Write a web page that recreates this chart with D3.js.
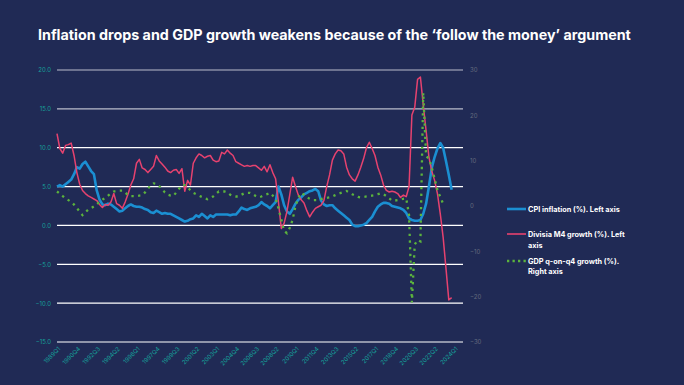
<!DOCTYPE html>
<html>
<head>
<meta charset="utf-8">
<script src="https://cdn.jsdelivr.net/npm/d3@7"></script>
<style>
  html, body { margin: 0; padding: 0; background: #202a55; }
  svg { display: block; }
</style>
</head>
<body>
<div id="chart"></div>
<script>
const W = 684, H = 385;

// quarterly categories 1989Q1 .. 2024Q4
const years = d3.range(1989, 2025);
const quarters = years.flatMap(y => [1, 2, 3, 4].map(q => `${y}Q${q}`));

const xTickLabels = [
  "1989Q1", "1990Q4", "1992Q3", "1994Q2", "1996Q1", "1997Q4", "1999Q3",
  "2001Q2", "2003Q1", "2004Q4", "2006Q3", "2008Q2", "2010Q1", "2011Q4",
  "2013Q3", "2015Q2", "2017Q1", "2018Q4", "2020Q3", "2022Q2", "2024Q1"
];
const leftTicks = [20, 15, 10, 5, 0, -5, -10, -15];
const rightTicks = [30, 20, 10, 0, -10, -20, -30];

// CPI inflation (%), left axis, from 1989Q1
const cpi = [
  5.0, 5.2, 5.0, 5.3, 5.6, 5.9, 6.6, 7.5, 7.3, 7.9,
  8.2, 7.6, 7.0, 6.6, 4.5, 3.3, 2.7, 2.6, 2.8, 2.7,
  2.4, 2.1, 1.8, 1.9, 2.2, 2.5, 2.7, 2.5, 2.4, 2.4,
  2.3, 2.1, 2.0, 1.7, 1.6, 1.9, 1.7, 1.5, 1.6, 1.5,
  1.5, 1.3, 1.1, 0.9, 0.7, 0.5, 0.6, 0.8, 0.9, 1.3,
  1.1, 1.5, 1.2, 0.9, 1.3, 1.1, 1.4, 1.4, 1.4, 1.4,
  1.4, 1.3, 1.4, 1.4, 1.8, 2.3, 2.1, 2.0, 2.2, 2.3,
  2.4, 2.6, 3.0, 2.7, 2.5, 2.2, 2.6, 3.0, 5.0, 4.0,
  2.6, 1.8, 1.5, 2.1, 2.8, 3.3, 3.6, 4.0, 4.2, 4.4,
  4.5, 4.7, 4.4, 3.2, 2.7, 2.5, 2.6, 2.6, 2.2, 1.9,
  1.6, 1.3, 1.0, 0.7, 0.1, -0.1, -0.1, 0.0, 0.1, 0.3,
  0.7, 1.1, 1.8, 2.4, 2.7, 2.9, 2.9, 2.8, 2.5, 2.4,
  2.3, 2.2, 2.0, 1.6, 0.9, 0.7, 0.6, 0.6, 0.7, 1.5,
  2.8, 5.0, 7.4, 8.8, 9.9, 10.6, 10.0, 8.3, 6.5, 4.6
];

// Divisia M4 growth (%), left axis
const m4 = [
  11.8, 9.9, 9.3, 10.3, 10.4, 10.6, 9.0, 6.8, 5.3, 4.5,
  4.1, 3.8, 3.6, 3.4, 3.2, 2.7, 2.3, 2.7, 2.6, 3.0,
  4.1, 2.8, 2.6, 2.2, 3.0, 4.0, 5.2, 6.0, 8.0, 8.5,
  7.4, 7.2, 6.8, 7.2, 7.6, 9.0, 8.3, 7.9, 7.5, 7.0,
  6.8, 7.1, 7.2, 6.7, 7.3, 4.4, 5.8, 5.2, 8.0, 8.7,
  9.2, 9.0, 8.7, 8.9, 9.0, 8.4, 8.2, 8.3, 9.4, 9.2,
  9.7, 9.3, 9.0, 8.2, 8.0, 7.8, 7.6, 7.7, 7.6, 7.7,
  7.7, 7.4, 7.1, 7.6, 6.9, 7.8, 6.8, 6.0, 3.0, -0.4,
  0.3, 1.8, 4.0, 6.2, 5.0, 3.9, 3.3, 2.9, 1.9, 1.1,
  1.7, 2.2, 2.4, 2.6, 3.2, 5.0, 6.5, 8.4, 9.2, 9.7,
  9.6, 9.2, 7.5, 6.5, 6.0, 5.7, 6.5, 7.5, 8.6, 10.0,
  10.7, 9.9, 9.0, 7.5, 6.5, 5.2, 4.5, 4.3, 4.4, 4.3,
  4.1, 3.6, 3.9, 3.7, 5.0, 14.2, 15.2, 18.8, 19.1, 15.5,
  12.2, 8.8, 7.0, 5.8, 4.1, 1.5, -1.5, -5.5, -9.6, -9.3
];

// GDP q-on-q4 growth (%), right axis
const gdp = [
  3.2, 2.7, 2.2, 1.7, 1.3, 0.9, 0.3, -0.4, -1.3, -2.0,
  -1.4, -0.8, -0.5, -0.1, 0.4, 0.9, 1.4, 1.8, 2.3, 2.8,
  3.2, 3.3, 3.4, 3.4, 3.0, 2.4, 2.2, 2.2, 2.2, 2.3,
  2.4, 3.0, 3.8, 4.6, 5.0, 4.9, 4.4, 3.7, 3.0, 2.5,
  2.3, 2.2, 3.0, 3.8, 4.6, 4.6, 4.1, 3.5, 2.9, 2.6,
  2.3, 2.0, 1.7, 1.5, 1.8, 2.1, 2.7, 3.2, 3.2, 3.2,
  3.0, 2.5, 2.2, 2.1, 2.1, 2.5, 2.8, 2.9, 2.9, 2.6,
  2.2, 1.9, 2.1, 2.4, 2.6, 2.9, 2.3, 1.7, -0.5, -3.0,
  -5.5, -6.0, -4.8, -3.0, 0.0, 1.8, 2.9, 2.5, 1.9, 1.6,
  1.3, 1.3, 1.3, 1.5, 1.7, 1.8, 1.9, 2.1, 2.4, 2.7,
  2.9, 3.1, 3.3, 3.0, 2.6, 2.3, 2.0, 1.9, 2.0, 2.1,
  2.2, 2.3, 2.4, 2.6, 2.8, 2.6, 2.2, 1.7, 1.2, 1.2,
  1.3, 1.4, 1.6, 1.7, -2.0, -21.3, -8.5, -7.5, -7.8, 25.0,
  11.0, 10.5, 8.5, 6.0, 3.5, 2.0, 0.5
];

const svg = d3.select("#chart")
  .append("svg")
  .attr("width", W)
  .attr("height", H);

svg.append("rect")
  .attr("width", W)
  .attr("height", H)
  .attr("fill", "#202a55");

const x = d3.scalePoint()
  .domain(quarters)
  .range([57, 463]);

const yL = d3.scaleLinear()
  .domain([-15, 20])
  .range([342, 70]);

const yR = d3.scaleLinear()
  .domain([-30, 30])
  .range([342, 70]);

// gridlines
svg.append("g")
  .selectAll("line")
  .data(leftTicks)
  .enter()
  .append("line")
  .attr("x1", 57)
  .attr("x2", 463)
  .attr("y1", d => yL(d))
  .attr("y2", d => yL(d))
  .attr("stroke", d => d >= 15 ? "#b9bccb" : "#ffffff")
  .attr("stroke-width", 1.2);

// left axis
const leftAxis = svg.append("g")
  .attr("transform", "translate(57,0)")
  .call(d3.axisLeft(yL).tickValues(leftTicks).tickSize(0).tickPadding(6)
    .tickFormat(d => d3.format(".1f")(d)));
leftAxis.select(".domain").remove();
leftAxis.selectAll("text")
  .attr("fill", "#16a09b")
  .style("font-family", "Inter, 'Open Sans', sans-serif")
  .style("font-size", "6px");

// right axis
const rightAxis = svg.append("g")
  .attr("transform", "translate(463,0)")
  .call(d3.axisRight(yR).tickValues(rightTicks).tickSize(0).tickPadding(7));
rightAxis.select(".domain").remove();
rightAxis.selectAll("text")
  .attr("fill", "#646a7e")
  .style("font-family", "Inter, 'Open Sans', sans-serif")
  .style("font-size", "6px");

// x axis labels
const xAxis = svg.append("g")
  .attr("transform", "translate(0,346)")
  .call(d3.axisBottom(x).tickValues(xTickLabels).tickSize(0).tickPadding(0));
xAxis.select(".domain").remove();
xAxis.selectAll("text")
  .attr("fill", "#16a09b")
  .style("font-family", "Inter, 'Open Sans', sans-serif")
  .style("font-size", "6px")
  .attr("text-anchor", "end")
  .attr("dy", "0.3em")
  .attr("transform", "translate(2,2) rotate(-45)");

const lineL = d3.line()
  .x((d, i) => x(quarters[i]))
  .y(d => yL(d));

const lineR = d3.line()
  .x((d, i) => x(quarters[i]))
  .y(d => yR(d));

svg.append("path")
  .datum(cpi)
  .attr("fill", "none")
  .attr("stroke", "#1b8fd2")
  .attr("stroke-width", 2.6)
  .attr("stroke-linejoin", "round")
  .attr("d", lineL);

svg.append("path")
  .datum(m4)
  .attr("fill", "none")
  .attr("stroke", "#e6426f")
  .attr("stroke-width", 1.5)
  .attr("stroke-linejoin", "round")
  .attr("d", lineL);

svg.append("path")
  .datum(gdp)
  .attr("fill", "none")
  .attr("stroke", "#5bb33d")
  .attr("stroke-width", 2.3)
  .attr("stroke-dasharray", "2.3,4.4")
  .attr("d", lineR);

// title
svg.append("text")
  .attr("x", 38)
  .attr("y", 40)
  .attr("fill", "#ffffff")
  .style("font-family", "Inter, 'Open Sans', sans-serif")
  .style("font-weight", "700")
  .style("font-size", "14.3px")
  .text("Inflation drops and GDP growth weakens because of the \u2018follow the money\u2019 argument");

// legend
const legend = svg.append("g")
  .style("font-family", "Inter, 'Open Sans', sans-serif")
  .style("font-weight", "700")
  .style("font-size", "7.3px")
  .attr("fill", "#ffffff");

legend.append("line")
  .attr("x1", 507).attr("x2", 526).attr("y1", 209).attr("y2", 209)
  .attr("stroke", "#1b8fd2").attr("stroke-width", 2.6);
legend.append("text").attr("x", 528).attr("y", 211.5)
  .text("CPI inflation (%). Left axis");

legend.append("line")
  .attr("x1", 507).attr("x2", 526).attr("y1", 234).attr("y2", 234)
  .attr("stroke", "#e6426f").attr("stroke-width", 1.6);
legend.append("text").attr("x", 528).attr("y", 236.5)
  .text("Divisia M4 growth (%). Left");
legend.append("text").attr("x", 528).attr("y", 247.5)
  .text("axis");

legend.append("line")
  .attr("x1", 507).attr("x2", 526).attr("y1", 261).attr("y2", 261)
  .attr("stroke", "#5bb33d").attr("stroke-width", 2.3)
  .attr("stroke-dasharray", "2.3,3.2");
legend.append("text").attr("x", 528).attr("y", 263.5)
  .text("GDP q-on-q4 growth (%).");
legend.append("text").attr("x", 528).attr("y", 274)
  .text("Right axis");
</script>
</body>
</html>
